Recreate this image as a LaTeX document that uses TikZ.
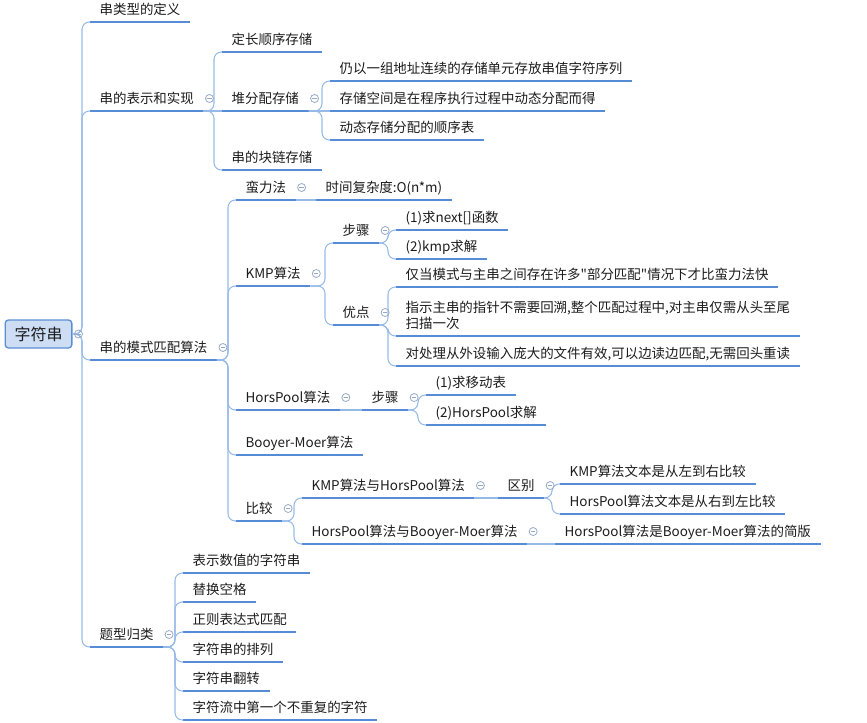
\documentclass[tikz,border=0pt]{standalone}
\usepackage{fontspec}
\newfontfamily\cjk{Noto Sans CJK SC}
\definecolor{ulinec}{RGB}{86,140,214}
\definecolor{connc}{RGB}{150,186,232}
\definecolor{iconc}{RGB}{150,170,200}
\definecolor{rootfill}{RGB}{204,221,244}
\definecolor{rootdraw}{RGB}{92,142,212}
\definecolor{txtc}{RGB}{28,28,28}
\newcommand\mmconn[2]{\draw[connst] (#1.south east) -| ([xshift=-6pt]#2.south west) -- (#2.south west);}
\newcommand\mmstraight[2]{\draw[connst] (#1.south east) -- (#2.south west);}
\newcommand\mmicon[1]{\path ([shift={(6,-12.5)}]#1.south east) coordinate (ic);
  \draw[iconst] (ic) circle (3pt); \draw[iconst] ([xshift=-1.6pt]ic) -- ([xshift=1.6pt]ic);}
\begin{document}
\begin{tikzpicture}[x=0.75pt,y=-0.75pt,
  topic/.style={anchor=south west, font=\cjk\fontsize{10.1pt}{12.5pt}\selectfont, text=txtc,
    inner xsep=7pt, inner ysep=2.5pt, text depth=2.8pt, align=left,
    append after command={(\tikzlastnode.south west) edge[ulinest] (\tikzlastnode.south east)}},
  ulinest/.style={draw=ulinec, line width=1.6pt},
  connst/.style={draw=connc, line width=0.8pt, rounded corners=5.5pt},
  iconst/.style={draw=iconc, line width=0.6pt},
  rootst/.style={draw=rootdraw, fill=rootfill, line width=1pt, rounded corners=2.5pt,
    minimum width=50pt, minimum height=21pt, font=\cjk\fontsize{12pt}{14pt}\selectfont, text=txtc}]
\useasboundingbox (0,0) rectangle (867,722);

\node[rootst] (root) at (38.5,334) {字符串};

\node[topic] (a1) at (90,22) {串类型的定义};
\node[topic] (a2) at (90,111) {串的表示和实现};
\node[topic] (a3) at (90,360) {串的模式匹配算法};
\node[topic] (a4) at (90,647) {题型归类};

\node[topic] (b1) at (222,52) {定长顺序存储};
\node[topic] (b2) at (222,111) {堆分配存储};
\node[topic] (b3) at (222,170) {串的块链存储};

\node[topic] (c1) at (330,81) {仍以一组地址连续的存储单元存放串值字符序列};
\node[topic] (c2) at (330,111) {存储空间是在程序执行过程中动态分配而得};
\node[topic] (c3) at (330,140) {动态存储分配的顺序表};

\node[topic] (d1) at (236,200) {蛮力法};
\node[topic] (d1a) at (316,200) {时间复杂度:O(n*m)};
\node[topic] (d2) at (236,286) {KMP算法};
\node[topic] (e1) at (333,243) {步骤};
\node[topic] (e1a) at (396,230) {(1)求next[]函数};
\node[topic] (e1b) at (396,259) {(2)kmp求解};
\node[topic] (e2) at (333,325) {优点};
\node[topic] (e2a) at (396,287) {仅当模式与主串之间存在许多"部分匹配"情况下才比蛮力法快};
\node[topic] (e2b) at (396,336) {指示主串的指针不需要回溯,整个匹配过程中,对主串仅需从头至尾\\扫描一次};
\node[topic] (e2c) at (396,366) {对处理从外设输入庞大的文件有效,可以边读边匹配,无需回头重读};
\node[topic] (d3) at (236,410) {HorsPool算法};
\node[topic] (f1) at (362,410) {步骤};
\node[topic] (f1a) at (426,395) {(1)求移动表};
\node[topic] (f1b) at (426,425) {(2)HorsPool求解};
\node[topic] (d4) at (236,455) {Booyer-Moer算法};
\node[topic] (d5) at (236,521) {比较};
\node[topic] (g1) at (302,498) {KMP算法与HorsPool算法};
\node[topic] (h1) at (498,498) {区别};
\node[topic] (h1a) at (560,484) {KMP算法文本是从左到右比较};
\node[topic] (h1b) at (560,514) {HorsPool算法文本是从右到左比较};
\node[topic] (g2) at (302,544) {HorsPool算法与Booyer-Moer算法};
\node[topic] (g2a) at (555,544) {HorsPool算法是Booyer-Moer算法的简版};

\node[topic] (k1) at (183,573) {表示数值的字符串};
\node[topic] (k2) at (183,602) {替换空格};
\node[topic] (k3) at (183,632) {正则表达式匹配};
\node[topic] (k4) at (183,662) {字符串的排列};
\node[topic] (k5) at (183,691) {字符串翻转};
\node[topic] (k6) at (183,720) {字符流中第一个不重复的字符};

% connectors from root
\foreach \c in {a1,a2,a3,a4}
  \draw[connst] (root.east) -| ([xshift=-6pt]\c.south west) -- (\c.south west);

\mmconn{a2}{b1} \mmstraight{a2}{b2} \mmconn{a2}{b3}
\mmconn{b2}{c1} \mmstraight{b2}{c2} \mmconn{b2}{c3}
\foreach \c in {d1,d2,d3,d4,d5} {\mmconn{a3}{\c}}
\mmstraight{d1}{d1a}
\mmconn{d2}{e1} \mmconn{d2}{e2}
\mmconn{e1}{e1a} \mmconn{e1}{e1b}
\mmconn{e2}{e2a} \mmconn{e2}{e2b} \mmconn{e2}{e2c}
\mmstraight{d3}{f1}
\mmconn{f1}{f1a} \mmconn{f1}{f1b}
\mmconn{d5}{g1} \mmconn{d5}{g2}
\mmstraight{g1}{h1}
\mmconn{h1}{h1a} \mmconn{h1}{h1b}
\mmstraight{g2}{g2a}
\foreach \c in {k1,k2,k3,k4,k5,k6} {\mmconn{a4}{\c}}

% collapse icons
\path ([xshift=4.5pt]root.east) coordinate (ric);
\draw[iconst] (ric) circle (3pt); \draw[iconst] ([xshift=-1.6pt]ric) -- ([xshift=1.6pt]ric);
\foreach \n in {a2,a3,a4,b2,d1,d2,e1,e2,d3,f1,d5,g1,h1,g2} {\mmicon{\n}}
\end{tikzpicture}
\end{document}
